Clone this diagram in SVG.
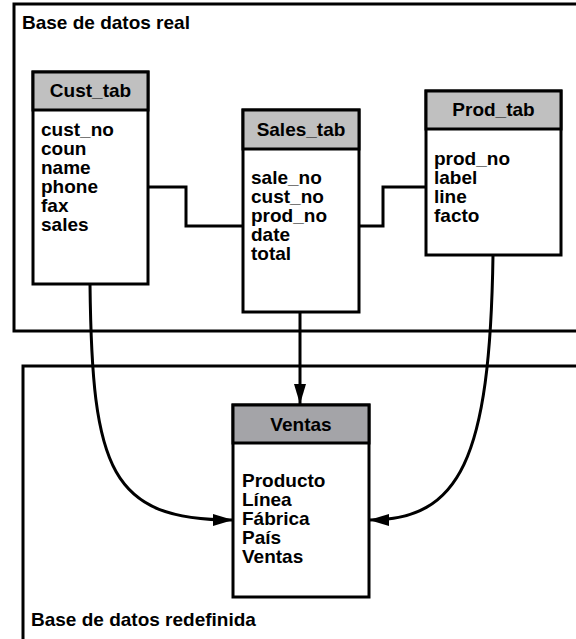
<svg xmlns="http://www.w3.org/2000/svg" width="576" height="639" viewBox="0 0 576 639">
<style>
  text { font-family: "Liberation Sans", Arial, sans-serif; font-weight: bold; font-size: 19px; fill: #000; }
  .frame { fill: none; stroke: #000; stroke-width: 3; }
  .box { fill: #fff; stroke: #000; stroke-width: 3; }
  .hdr { fill: #c0c0c0; stroke: #000; stroke-width: 3; }
  .hdr2 { fill: #a4a4a8; stroke: #000; stroke-width: 3; }
  .title { text-anchor: middle; }
  .conn { fill: none; stroke: #000; stroke-width: 3; }
</style>
<defs>
  <marker id="arrow" markerUnits="userSpaceOnUse" markerWidth="20" markerHeight="12" refX="20" refY="6" orient="auto">
    <path d="M0,0 L20,6 L0,12 Z" fill="#000"/>
  </marker>
</defs>
<rect width="576" height="639" fill="#fff"/>

<g id="real-db">
  <rect class="frame" x="14" y="4" width="600" height="327"/>
  <text x="22" y="29">Base de datos real</text>
</g>
<g id="redef-db">
  <rect class="frame" x="23" y="366" width="600" height="300"/>
  <text x="31" y="626">Base de datos redefinida</text>
</g>

<g id="connectors">
  <path class="conn" d="M148,187 H186 V226 H243"/>
  <path class="conn" d="M359,226 H383 V187 H426"/>
  <path class="conn" d="M300,312 V404" marker-end="url(#arrow)"/>
  <path class="conn" d="M90,284 C92,470 110,520 233,520" marker-end="url(#arrow)"/>
  <path class="conn" d="M493,255 C490,460 460,520 369,520" marker-end="url(#arrow)"/>
</g>

<g id="cust_tab">
  <rect class="box" x="33" y="72" width="115" height="212"/>
  <rect class="hdr" x="33" y="72" width="115" height="38"/>
  <text class="title" x="90.5" y="97">Cust_tab</text>
  <text x="41" y="136">cust_no</text>
  <text x="41" y="155">coun</text>
  <text x="41" y="174">name</text>
  <text x="41" y="193">phone</text>
  <text x="41" y="212">fax</text>
  <text x="41" y="231">sales</text>
</g>

<g id="sales_tab">
  <rect class="box" x="243" y="110" width="116" height="202"/>
  <rect class="hdr" x="243" y="110" width="116" height="39"/>
  <text class="title" x="301" y="136">Sales_tab</text>
  <text x="251" y="184">sale_no</text>
  <text x="251" y="203">cust_no</text>
  <text x="251" y="222">prod_no</text>
  <text x="251" y="241">date</text>
  <text x="251" y="260">total</text>
</g>

<g id="prod_tab">
  <rect class="box" x="426" y="91" width="135" height="164"/>
  <rect class="hdr" x="426" y="91" width="135" height="38"/>
  <text class="title" x="493.5" y="116">Prod_tab</text>
  <text x="434" y="165">prod_no</text>
  <text x="434" y="184">label</text>
  <text x="434" y="203">line</text>
  <text x="434" y="222">facto</text>
</g>

<g id="ventas">
  <rect class="box" x="233" y="405" width="136" height="192"/>
  <rect class="hdr2" x="233" y="405" width="136" height="38"/>
  <text class="title" x="301" y="431">Ventas</text>
  <text x="242" y="487">Producto</text>
  <text x="242" y="506">Línea</text>
  <text x="242" y="525">Fábrica</text>
  <text x="242" y="544">País</text>
  <text x="242" y="563">Ventas</text>
</g>
</svg>
